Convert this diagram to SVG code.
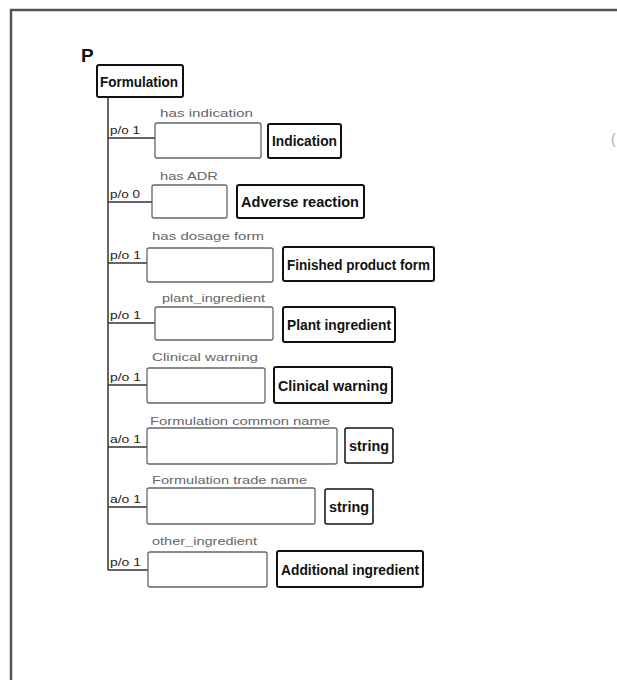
<svg xmlns="http://www.w3.org/2000/svg" width="617" height="680" viewBox="0 0 617 680">
<style>
.frame{stroke:#555;stroke-width:2.5;fill:none}
.conn{stroke:#333;stroke-width:1.5;fill:none}
.slot{fill:#fff;stroke:#666;stroke-width:1.3}
.type{fill:#fff;stroke:#111;stroke-width:2}
.lbl{font-family:"Liberation Sans",Arial,sans-serif;font-size:11px;fill:#666}
.card{font-family:"Liberation Sans",Arial,sans-serif;font-size:11px;fill:#222}
.tt{font-family:"Liberation Sans",Arial,sans-serif;font-size:14.5px;font-weight:bold;fill:#111}
</style>
<rect width="617" height="680" fill="#fff"/>
<path class="frame" d="M11,680 V10 H617"/>
<text x="81" y="62" font-family="Liberation Sans,Arial,sans-serif" font-size="19" font-weight="bold" fill="#111">P</text>
<text x="611" y="144" font-family="Liberation Sans,Arial,sans-serif" font-size="14" fill="#aaa">(</text>

<g id="connectors">
<path class="conn" d="M108,97 V570"/>
<path class="conn" d="M108,138 H155"/>
<path class="conn" d="M108,202 H152"/>
<path class="conn" d="M108,263 H147"/>
<path class="conn" d="M108,323 H155"/>
<path class="conn" d="M108,385 H147"/>
<path class="conn" d="M108,447 H147"/>
<path class="conn" d="M108,507 H147"/>
<path class="conn" d="M108,570 H148"/>
</g>

<g id="formulation">
<rect class="type" x="97" y="65" width="86" height="32" rx="2"/>
<text class="tt" x="100" y="87" textLength="78" lengthAdjust="spacingAndGlyphs">Formulation</text>
</g>

<g id="row-indication">
<text class="lbl" x="160" y="117" textLength="93" lengthAdjust="spacingAndGlyphs">has indication</text>
<text class="card" x="110" y="134" textLength="30" lengthAdjust="spacingAndGlyphs">p/o 1</text>
<rect class="slot" x="155" y="123" width="106" height="35" rx="2"/>
<rect class="type" x="268" y="124" width="73" height="34" rx="2"/>
<text class="tt" x="272" y="146" textLength="65" lengthAdjust="spacingAndGlyphs">Indication</text>
</g>

<g id="row-adr">
<text class="lbl" x="160" y="180" textLength="58" lengthAdjust="spacingAndGlyphs">has ADR</text>
<text class="card" x="110" y="198" textLength="30" lengthAdjust="spacingAndGlyphs">p/o 0</text>
<rect class="slot" x="152" y="185" width="75" height="33" rx="2"/>
<rect class="type" x="237" y="185" width="127" height="33" rx="2"/>
<text class="tt" x="241" y="207" textLength="118" lengthAdjust="spacingAndGlyphs">Adverse reaction</text>
</g>

<g id="row-dosage">
<text class="lbl" x="152" y="240" textLength="112" lengthAdjust="spacingAndGlyphs">has dosage form</text>
<text class="card" x="110" y="259" textLength="31" lengthAdjust="spacingAndGlyphs">p/o 1</text>
<rect class="slot" x="147" y="248" width="126" height="34" rx="2"/>
<rect class="type" x="283" y="247" width="151" height="34" rx="2"/>
<text class="tt" x="287" y="270" textLength="143" lengthAdjust="spacingAndGlyphs">Finished product form</text>
</g>

<g id="row-plant">
<text class="lbl" x="162" y="302" textLength="103" lengthAdjust="spacingAndGlyphs">plant_ingredient</text>
<text class="card" x="110" y="319" textLength="31" lengthAdjust="spacingAndGlyphs">p/o 1</text>
<rect class="slot" x="155" y="307" width="118" height="33" rx="2"/>
<rect class="type" x="283" y="307" width="112" height="35" rx="2"/>
<text class="tt" x="287" y="330" textLength="104" lengthAdjust="spacingAndGlyphs">Plant ingredient</text>
</g>

<g id="row-clinical">
<text class="lbl" x="152" y="361" textLength="106" lengthAdjust="spacingAndGlyphs">Clinical warning</text>
<text class="card" x="110" y="381" textLength="31" lengthAdjust="spacingAndGlyphs">p/o 1</text>
<rect class="slot" x="147" y="368" width="118" height="35" rx="2"/>
<rect class="type" x="274" y="367" width="118" height="36" rx="2"/>
<text class="tt" x="278" y="391" textLength="110" lengthAdjust="spacingAndGlyphs">Clinical warning</text>
</g>

<g id="row-common">
<text class="lbl" x="150" y="425" textLength="180" lengthAdjust="spacingAndGlyphs">Formulation common name</text>
<text class="card" x="110" y="443" textLength="31" lengthAdjust="spacingAndGlyphs">a/o 1</text>
<rect class="slot" x="147" y="428" width="190" height="36" rx="2"/>
<rect class="type" x="345" y="428" width="48" height="35" rx="2" style="stroke-width:1.5"/>
<text class="tt" x="349" y="451" textLength="40" lengthAdjust="spacingAndGlyphs">string</text>
</g>

<g id="row-trade">
<text class="lbl" x="152" y="484" textLength="155" lengthAdjust="spacingAndGlyphs">Formulation trade name</text>
<text class="card" x="110" y="503" textLength="31" lengthAdjust="spacingAndGlyphs">a/o 1</text>
<rect class="slot" x="147" y="488" width="168" height="36" rx="2"/>
<rect class="type" x="325" y="489" width="48" height="35" rx="2" style="stroke-width:1.5"/>
<text class="tt" x="329" y="512" textLength="40" lengthAdjust="spacingAndGlyphs">string</text>
</g>

<g id="row-other">
<text class="lbl" x="152" y="545" textLength="105" lengthAdjust="spacingAndGlyphs">other_ingredient</text>
<text class="card" x="110" y="566" textLength="31" lengthAdjust="spacingAndGlyphs">p/o 1</text>
<rect class="slot" x="148" y="552" width="119" height="35" rx="2"/>
<rect class="type" x="277" y="551" width="146" height="36" rx="2"/>
<text class="tt" x="281" y="575" textLength="138" lengthAdjust="spacingAndGlyphs">Additional ingredient</text>
</g>
</svg>
